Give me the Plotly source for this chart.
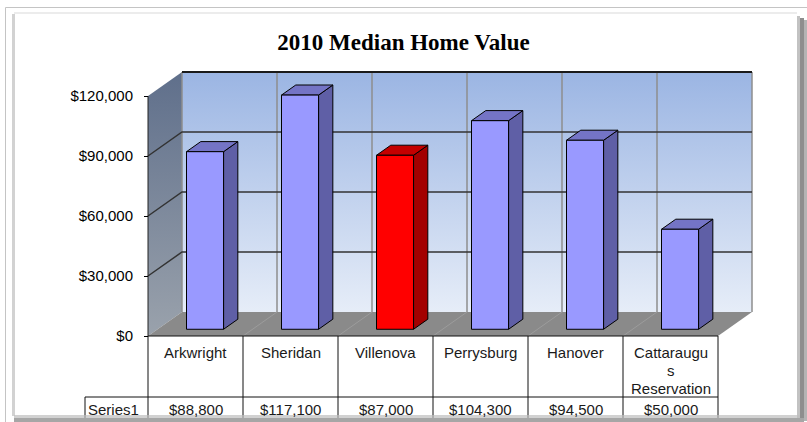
import plotly.graph_objects as go

# chart data
categories = ["Arkwright", "Sheridan", "Villenova", "Perrysburg", "Hanover", "Cattaraugus Reservation"]
cat_labels = ["Arkwright", "Sheridan", "Villenova", "Perrysburg", "Hanover", "Cattaraugu<br>s<br>Reservation"]
values = [88800, 117100, 87000, 104300, 94500, 50000]
highlight = "Villenova"
y_ticks = [0, 30000, 60000, 90000, 120000]
series_name = "Series1"

W, H = 807, 422
# pseudo-3d geometry (depth offset in axis units)
DX = 34 / 95
DY = 12000
BAR_W = 0.39
F0, F1 = 0.28, 0.70
YMAX = y_ticks[-1]
n = len(categories)
left, right = -0.5, n - 0.5

# axis ranges so that 1 category = 95px, 1000$ = 2px
x_range = [-0.5 - 148 / 95, -0.5 + (W - 148) / 95]
y_range = [-(H - 336) * 500, 336 * 500]


def vy(py):
    return (336 - py) * 500


def vx(px):
    return -0.5 + (px - 148) / 95


fig = go.Figure()


def poly(xs, ys, fill, line_color=None, width=0, grad=None):
    tr = go.Scatter(
        x=xs + [xs[0]], y=ys + [ys[0]], mode="lines", fill="toself",
        fillcolor=fill, hoverinfo="skip", showlegend=False,
        line=dict(color=line_color or "rgba(0,0,0,0)", width=width),
    )
    if grad:
        tr.fillgradient = dict(type="vertical", colorscale=grad)
    fig.add_trace(tr)


def lines(xs, ys, color, width):
    fig.add_trace(go.Scatter(x=xs, y=ys, mode="lines", hoverinfo="skip",
                             showlegend=False, line=dict(color=color, width=width)))


# walls and floor
poly([left + DX, right + DX, right + DX, left + DX], [DY, DY, YMAX + DY, YMAX + DY],
     "#c0d0ee", grad=[[0, "#e6edf8"], [1, "#9bb5e3"]])
poly([left, left + DX, left + DX, left], [0, DY, YMAX + DY, YMAX],
     "#7a879a", grad=[[0, "#9aa2ac"], [1, "#5f6f8b"]])
poly([left, right, right + DX, left + DX], [0, 0, DY, DY], "#8a8a8a")

# floor diagonals
fx, fy = [], []
for k in range(1, n):
    fx += [left + k, left + k + DX, None]
    fy += [0, DY, None]
lines(fx, fy, "#9c9c9c", 1)

# back wall verticals
gx, gy = [], []
for k in range(n + 1):
    gx += [left + k + DX, left + k + DX, None]
    gy += [DY, YMAX + DY, None]
lines(gx, gy, "#8e8e8e", 1.5)

# horizontal gridlines on back wall and left wall
hx, hy = [], []
for v in y_ticks[1:-1]:
    hx += [left, left + DX, right + DX, None]
    hy += [v, v + DY, v + DY, None]
lines(hx, hy, "#333333", 1.5)
lines([left + DX, right + DX], [YMAX + DY, YMAX + DY], "#1a1a1a", 2)
lines([left, left], [0, YMAX], "#222222", 1)

# bars
for i, (c, v) in enumerate(zip(categories, values)):
    if c == highlight:
        front, side, top = "#ff0000", "#a30000", "#c40000"
    else:
        front, side, top = "#9999ff", "#5f5fa6", "#7474c6"
    xl = i + F0 * DX - BAR_W / 2
    xr = xl + BAR_W
    b = F0 * DY
    ddx = (F1 - F0) * DX
    ddy = (F1 - F0) * DY
    poly([xr, xr + ddx, xr + ddx, xr], [b, b + ddy, b + v + ddy, b + v], side, "black", 1)
    poly([xl, xr, xr + ddx, xl + ddx], [b + v, b + v, b + v + ddy, b + v + ddy], top, "black", 1)
    poly([xl, xr, xr, xl], [b, b, b + v, b + v], front, "black", 1)

# data table
row1, row2, row3 = 0, vy(397), vy(420)
sx = vx(85)
tx, ty = [left, right, None, sx, right, None, sx, right, None, sx, sx, None], \
         [row1, row1, None, row2, row2, None, row3, row3, None, row2, row3, None]
for k in range(n + 1):
    tx += [left + k, left + k, None]
    ty += [row1, row3, None]
lines(tx, ty, "#111111", 1)

tfont = dict(size=15, color="#1a1a1a")
annotations = []
for i, lab in enumerate(cat_labels):
    for j, part in enumerate(lab.split("<br>")):
        annotations.append(dict(x=i, y=vy(352 + 18 * j), xref="x", yref="y", text=part,
                                showarrow=False, yanchor="middle", font=tfont))
    annotations.append(dict(x=i, y=vy(409), xref="x", yref="y", text=f"${values[i]:,}",
                            showarrow=False, yanchor="middle", font=tfont))
annotations.append(dict(x=vx(86), y=vy(409), xref="x", yref="y", text=series_name,
                        showarrow=False, xanchor="left", yanchor="middle", font=tfont))


def px_x(p):
    return p / W


def px_y(p):
    return 1 - p / H


shapes = [
    dict(type="rect", xref="paper", yref="paper", x0=px_x(5.5), x1=px_x(830), y0=px_y(7.5), y1=px_y(440),
         line=dict(color="#c4c4c4", width=1), layer="below"),
    dict(type="rect", xref="paper", yref="paper", x0=px_x(12), x1=px_x(15), y0=px_y(14), y1=px_y(416),
         fillcolor="#d2d2d2", line=dict(width=0), layer="below"),
    dict(type="rect", xref="paper", yref="paper", x0=px_x(14), x1=px_x(797), y0=px_y(12), y1=px_y(14),
         fillcolor="#ececec", line=dict(width=0), layer="below"),
    dict(type="rect", xref="paper", yref="paper", x0=px_x(797), x1=px_x(800), y0=px_y(16), y1=px_y(420),
         fillcolor="#c2c2c2", line=dict(width=0), layer="above"),
    dict(type="rect", xref="paper", yref="paper", x0=px_x(800), x1=px_x(804), y0=px_y(18), y1=px_y(421),
         fillcolor="#8e8e8e", line=dict(width=0), layer="above"),
    dict(type="rect", xref="paper", yref="paper", x0=px_x(804), x1=px_x(807), y0=px_y(20), y1=px_y(421),
         fillcolor="#b4b4b4", line=dict(width=0), layer="above"),
    dict(type="rect", xref="paper", yref="paper", x0=px_x(14), x1=px_x(800), y0=px_y(415), y1=px_y(418),
         fillcolor="rgba(190,190,190,0.7)", line=dict(width=0), layer="above"),
    dict(type="rect", xref="paper", yref="paper", x0=px_x(14), x1=px_x(804), y0=px_y(418), y1=px_y(422),
         fillcolor="#a6a6a6", line=dict(width=0), layer="above"),
]

fig.update_layout(
    width=W, height=H,
    margin=dict(l=0, r=0, t=0, b=0),
    paper_bgcolor="white", plot_bgcolor="rgba(0,0,0,0)",
    font=dict(family="Liberation Sans, Arial, sans-serif", size=15, color="black"),
    title=dict(text="<b>2010 Median Home Value</b>", x=0.5, xanchor="center",
               y=1 - 42 / H, yanchor="middle",
               font=dict(family="Liberation Serif, Times New Roman, serif", size=23, color="black")),
    xaxis=dict(range=x_range, visible=False, fixedrange=True),
    yaxis=dict(range=y_range, tickvals=y_ticks, ticktext=[f"${v:,}" for v in y_ticks],
               ticks="outside", ticklen=4, tickcolor="black", showgrid=False, zeroline=False,
               showline=False, anchor="free", position=148 / W, fixedrange=True,
               ticklabelstandoff=8, tickfont=dict(size=15, color="black")),
    annotations=annotations,
    shapes=shapes,
    showlegend=False,
)

fig.write_html("out.html", config={"displayModeBar": False},
               post_script="document.body.style.margin='0';")
